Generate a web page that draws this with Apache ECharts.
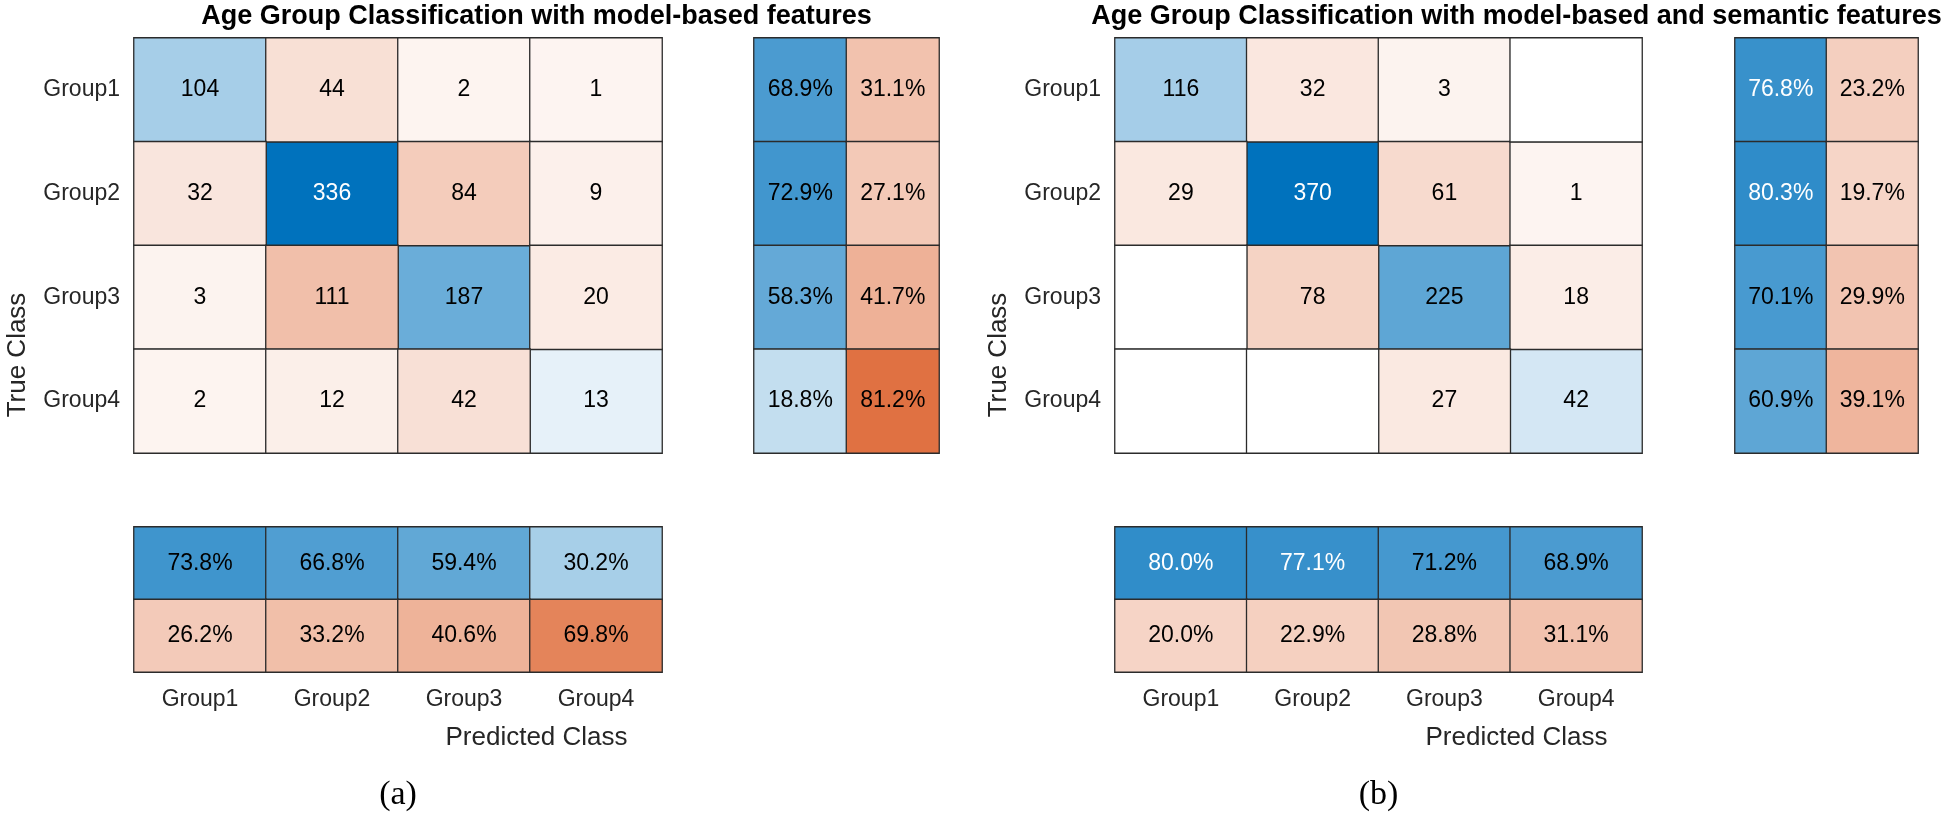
<!DOCTYPE html>
<html>
<head>
<meta charset="utf-8">
<script src="https://cdn.jsdelivr.net/npm/echarts@6/dist/echarts.min.js"></script>
<style>
html,body{margin:0;padding:0;background:#fff;}
#chart{width:1950px;height:819px;}
</style>
</head>
<body>
<div id="chart"></div>
<script>
// ---- data ----
const categories = ['Group1', 'Group2', 'Group3', 'Group4'];
const summaryKinds = ['correct', 'incorrect'];

const countsA = [
  [104, 44, 2, 1],
  [32, 336, 84, 9],
  [3, 111, 187, 20],
  [2, 12, 42, 13]
];
const rowCorrectA = [68.9, 72.9, 58.3, 18.8];
const rowWrongA = [31.1, 27.1, 41.7, 81.2];
const colCorrectA = [73.8, 66.8, 59.4, 30.2];
const colWrongA = [26.2, 33.2, 40.6, 69.8];

const countsB = [
  [116, 32, 3, 0],
  [29, 370, 61, 1],
  [0, 78, 225, 18],
  [0, 0, 27, 42]
];
const rowCorrectB = [76.8, 80.3, 70.1, 60.9];
const rowWrongB = [23.2, 19.7, 29.9, 39.1];
const colCorrectB = [80.0, 77.1, 71.2, 68.9];
const colWrongB = [20.0, 22.9, 28.8, 31.1];

const titles = [
  'Age Group Classification with model-based features',
  'Age Group Classification with model-based and semantic features'
];
const yTitle = 'True Class';
const xTitle = 'Predicted Class';
const panelLabels = ['(a)', '(b)'];

// ---- styling helpers ----
const BLUE = [0, 114, 189];
const ORANGE = [217, 83, 25];
const TINT0 = 0.06;               // lightest tint for a non-zero cell
const FONT = 'Liberation Sans, Arial, Helvetica, sans-serif';
function mix(c, t) {
  return [255 + (c[0] - 255) * t, 255 + (c[1] - 255) * t, 255 + (c[2] - 255) * t];
}
function txtColor(c, ratio) {
  const m = mix(c, TINT0 + (1 - TINT0) * ratio);
  const L = 0.299 * m[0] + 0.587 * m[1] + 0.114 * m[2];
  return L < 127 ? '#ffffff' : '#000000';
}
const hex = c => '#' + c.map(v => Math.round(v).toString(16).padStart(2, '0')).join('');
const lowFor = max => -TINT0 / (1 - TINT0) * max;

const panels = [
  { counts: countsA, rc: rowCorrectA, rw: rowWrongA, cc: colCorrectA, cw: colWrongA,
    main: { left: 134, top: 38, width: 528, height: 415 },
    row: { left: 754, top: 38, width: 185, height: 415 },
    col: { left: 134, top: 527, width: 528, height: 145 } },
  { counts: countsB, rc: rowCorrectB, rw: rowWrongB, cc: colCorrectB, cw: colWrongB,
    main: { left: 1115, top: 38, width: 527, height: 415 },
    row: { left: 1735, top: 38, width: 183, height: 415 },
    col: { left: 1115, top: 527, width: 527, height: 145 } }
];

const grid = [], xAxis = [], yAxis = [], series = [], visualMap = [], graphic = [];
const pctBlueSeries = [], pctOrangeSeries = [];
const BORDER = '#2b2b2b';

function hiddenCat(data, extra) {
  return Object.assign({
    type: 'category', data: data,
    axisLine: { show: false }, axisTick: { show: false },
    axisLabel: { show: false }, splitLine: { show: false }
  }, extra || {});
}
function heat(name, gi, data, fmt, color) {
  const style = { borderColor: BORDER, borderWidth: 1.3 };
  if (color) style.color = color;
  return {
    name: name, type: 'heatmap', xAxisIndex: gi, yAxisIndex: gi, data: data,
    itemStyle: style,
    emphasis: { disabled: true },
    label: { show: true, fontSize: 23, fontFamily: FONT, formatter: fmt }
  };
}
const countFmt = p => (p.value[2] === 0 ? '' : String(p.value[2]));
const pctFmt = p => p.value[2].toFixed(1) + '%';

panels.forEach((P, k) => {
  const g0 = grid.length;
  grid.push(P.main, P.row, P.col);
  // main matrix axes
  xAxis.push(hiddenCat(categories, { gridIndex: g0 }));
  yAxis.push(hiddenCat(categories, {
    gridIndex: g0, inverse: true,
    axisLabel: { show: true, fontSize: 23, fontFamily: FONT, color: '#262626', margin: 14 }
  }));
  // row summary axes
  xAxis.push(hiddenCat(summaryKinds, { gridIndex: g0 + 1 }));
  yAxis.push(hiddenCat(categories, { gridIndex: g0 + 1, inverse: true }));
  // column summary axes
  xAxis.push(hiddenCat(categories, {
    gridIndex: g0 + 2,
    axisLabel: { show: true, fontSize: 23, fontFamily: FONT, color: '#262626', margin: 16 }
  }));
  yAxis.push(hiddenCat(summaryKinds, { gridIndex: g0 + 2, inverse: true }));

  const maxCount = Math.max.apply(null, P.counts.flat());
  const diag = [], off = [], zero = [];
  P.counts.forEach((row, i) => row.forEach((v, j) => {
    if (v === 0) { zero.push([j, i, v]); return; }
    const base = i === j ? BLUE : ORANGE;
    const item = { value: [j, i, v], label: { color: txtColor(base, v / maxCount) } };
    (i === j ? diag : off).push(item);
  }));
  const s0 = series.length;
  series.push(heat('diag' + k, g0, diag, countFmt));
  series.push(heat('off' + k, g0, off, countFmt));
  series.push(heat('zero' + k, g0, zero, countFmt, '#ffffff'));
  visualMap.push({ show: false, type: 'continuous', seriesIndex: [s0], dimension: 2,
    min: lowFor(maxCount), max: maxCount, inRange: { color: ['#ffffff', hex(BLUE)] } });
  visualMap.push({ show: false, type: 'continuous', seriesIndex: [s0 + 1], dimension: 2,
    min: lowFor(maxCount), max: maxCount, inRange: { color: ['#ffffff', hex(ORANGE)] } });

  const pItem = (x, y, v, base) => ({ value: [x, y, v], label: { color: txtColor(base, v / 100) } });
  pctBlueSeries.push(series.length);
  series.push(heat('rowc' + k, g0 + 1, P.rc.map((v, i) => pItem(0, i, v, BLUE)), pctFmt));
  pctOrangeSeries.push(series.length);
  series.push(heat('roww' + k, g0 + 1, P.rw.map((v, i) => pItem(1, i, v, ORANGE)), pctFmt));
  pctBlueSeries.push(series.length);
  series.push(heat('colc' + k, g0 + 2, P.cc.map((v, i) => pItem(i, 0, v, BLUE)), pctFmt));
  pctOrangeSeries.push(series.length);
  series.push(heat('colw' + k, g0 + 2, P.cw.map((v, i) => pItem(i, 1, v, ORANGE)), pctFmt));

  const cx = (P.main.left + P.row.left + P.row.width) / 2;
  const mcx = P.main.left + P.main.width / 2;
  const cy = (P.main.top + P.col.top + P.col.height) / 2;
  graphic.push({ type: 'text', x: cx, y: 17, style: { text: titles[k], fontSize: 27, fontWeight: 'bold',
    fontFamily: FONT, fill: '#000', align: 'center', verticalAlign: 'middle' } });
  graphic.push({ type: 'text', x: cx, y: 738, style: { text: xTitle, fontSize: 26,
    fontFamily: FONT, fill: '#262626', align: 'center', verticalAlign: 'middle' } });
  graphic.push({ type: 'text', x: P.main.left - 116, y: cy, rotation: Math.PI / 2,
    style: { text: yTitle, fontSize: 26, fontFamily: FONT, fill: '#262626',
      align: 'center', verticalAlign: 'middle' } });
  graphic.push({ type: 'text', x: mcx, y: 795, style: { text: panelLabels[k], fontSize: 34,
    fontFamily: 'Liberation Serif, Times New Roman, serif', fill: '#000', align: 'center', verticalAlign: 'middle' } });
});

visualMap.push({ show: false, type: 'continuous', seriesIndex: pctBlueSeries, dimension: 2,
  min: lowFor(100), max: 100, inRange: { color: ['#ffffff', hex(BLUE)] } });
visualMap.push({ show: false, type: 'continuous', seriesIndex: pctOrangeSeries, dimension: 2,
  min: lowFor(100), max: 100, inRange: { color: ['#ffffff', hex(ORANGE)] } });

const chart = echarts.init(document.getElementById('chart'), null, { renderer: 'canvas' });
chart.setOption({
  backgroundColor: '#ffffff',
  animation: false,
  grid: grid, xAxis: xAxis, yAxis: yAxis,
  visualMap: visualMap, series: series, graphic: graphic
});
</script>
</body>
</html>
